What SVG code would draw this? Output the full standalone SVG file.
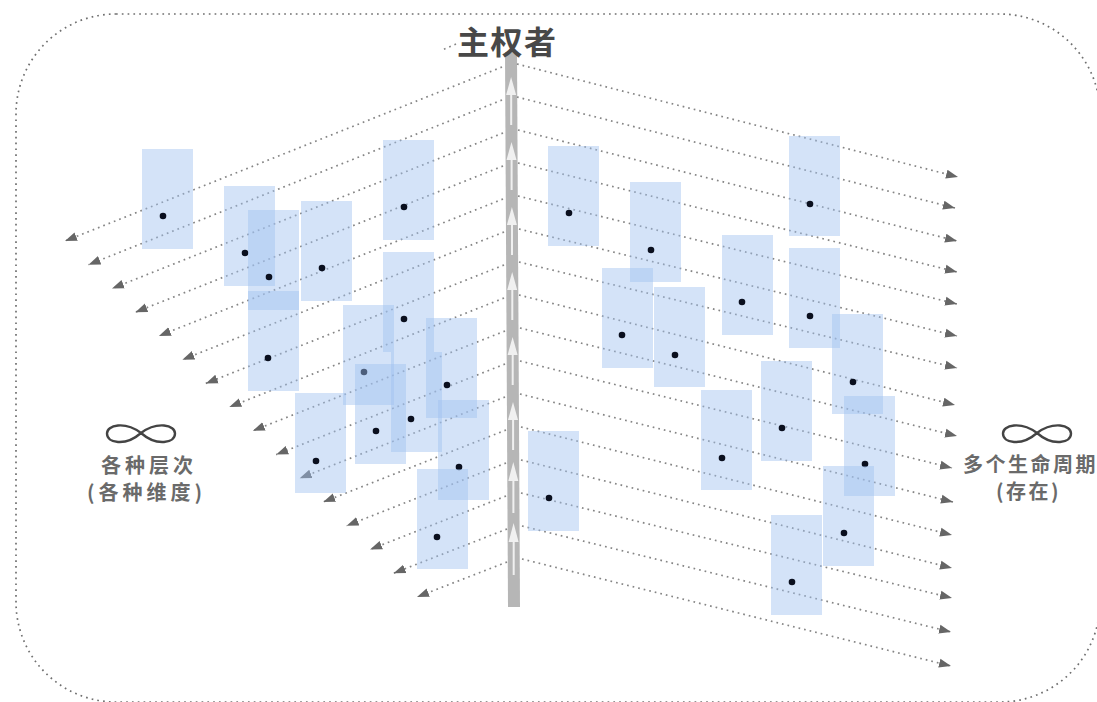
<svg xmlns="http://www.w3.org/2000/svg" width="1097" height="702" viewBox="0 0 1097 702">
<style>
.frame{fill:none;stroke:#707070;stroke-width:1.7;stroke-dasharray:1.7 4.1}
.c{fill:none;stroke:#858585;stroke-width:1.7;stroke-dasharray:1.7 4}
.b{fill:#a0c0f0;fill-opacity:.45}
.d{fill:#0a0f1e}
.w{fill:#f0f0f0}
.inf{fill:none;stroke:#444;stroke-width:2.4}
text{font-family:"Noto Sans CJK SC","Noto Sans",sans-serif}
.t{font-size:32px;font-weight:700;fill:#484848;letter-spacing:1.5px}
.l{font-size:20px;font-weight:700;fill:#6a6a6a;letter-spacing:4px}
.r{font-size:20px;font-weight:700;fill:#6a6a6a;letter-spacing:2.5px}
</style>
<defs>
<marker id="a" markerUnits="userSpaceOnUse" markerWidth="13" markerHeight="11" refX="12" refY="5" orient="auto"><path d="M0 0.500L12 5L0 9.500Z" fill="#666"/></marker>
</defs>
<rect width="1097" height="702" fill="#fff"/>
<rect id="frame" class="frame" x="16" y="14" width="1084" height="688" rx="100" ry="100"/>
<g id="spine">
<path d="M505 52H517L520 607H508Z" fill="#b6b6b6"/>
<path class="w" d="M511.1 77L516.1 95H512.2V125H510.2V95H506.1Z"/>
<path class="w" d="M511.5 142L516.5 160H512.6V190H510.6V160H506.5Z"/>
<path class="w" d="M511.9 207L516.9 225H513V255H511V225H506.9Z"/>
<path class="w" d="M512.2 272L517.2 290H513.3V320H511.3V290H507.2Z"/>
<path class="w" d="M512.6 337L517.6 355H513.7V385H511.7V355H507.6Z"/>
<path class="w" d="M513 402L518 420H514.1V450H512.1V420H508Z"/>
<path class="w" d="M513.3 462L518.3 481H514.4V513H512.4V481H508.3Z"/>
<path class="w" d="M513.6 523L518.6 542H514.7V575H512.7V542H508.6Z"/>
</g>
<g id="connectors">
<path class="c" d="M456 44L442 50"/>
<path class="c" marker-end="url(#a)" d="M502 67L65 241"/>
<path class="c" marker-end="url(#a)" d="M502 100L88.500 264.700"/>
<path class="c" marker-end="url(#a)" d="M503 133L112 288.500"/>
<path class="c" marker-end="url(#a)" d="M503 166L135.400 312.200"/>
<path class="c" marker-end="url(#a)" d="M503 199L158.900 335.900"/>
<path class="c" marker-end="url(#a)" d="M504 232L182.400 359.700"/>
<path class="c" marker-end="url(#a)" d="M504 265L205.800 383.400"/>
<path class="c" marker-end="url(#a)" d="M504 298L229.300 407.100"/>
<path class="c" marker-end="url(#a)" d="M505 331L252.800 430.800"/>
<path class="c" marker-end="url(#a)" d="M505 364L276.200 454.600"/>
<path class="c" marker-end="url(#a)" d="M505 397L299.700 478.300"/>
<path class="c" marker-end="url(#a)" d="M506 430L323.200 502"/>
<path class="c" marker-end="url(#a)" d="M506 463L346.600 525.800"/>
<path class="c" marker-end="url(#a)" d="M506 496L370.100 549.500"/>
<path class="c" marker-end="url(#a)" d="M507 529L393.600 573.200"/>
<path class="c" marker-end="url(#a)" d="M507 562L417 597"/>
<path class="c" marker-end="url(#a)" d="M517 64L958 177"/>
<path class="c" marker-end="url(#a)" d="M517 97L955 208"/>
<path class="c" marker-end="url(#a)" d="M518 130L957 241"/>
<path class="c" marker-end="url(#a)" d="M518 163L957 272"/>
<path class="c" marker-end="url(#a)" d="M518 196L957 304"/>
<path class="c" marker-end="url(#a)" d="M519 229L957 336"/>
<path class="c" marker-end="url(#a)" d="M519 262L957 368"/>
<path class="c" marker-end="url(#a)" d="M519 295L955 405"/>
<path class="c" marker-end="url(#a)" d="M520 328L957 436"/>
<path class="c" marker-end="url(#a)" d="M520 361L952 468"/>
<path class="c" marker-end="url(#a)" d="M520 394L953 502"/>
<path class="c" marker-end="url(#a)" d="M521 427L952 535"/>
<path class="c" marker-end="url(#a)" d="M521 460L952 568"/>
<path class="c" marker-end="url(#a)" d="M521 493L952 598"/>
<path class="c" marker-end="url(#a)" d="M522 526L951 632"/>
<path class="c" marker-end="url(#a)" d="M522 559L951 666"/>
</g>
<g id="n1"><rect class="b" x="142" y="149" width="51" height="100"/><circle class="d" cx="163" cy="216" r="3.300"/></g>
<g id="n2"><rect class="b" x="224" y="186" width="51" height="100"/><circle class="d" cx="245" cy="253" r="3.300"/></g>
<g id="n3"><rect class="b" x="248" y="210" width="51" height="100"/><circle class="d" cx="269" cy="277" r="3.300"/></g>
<g id="n4"><rect class="b" x="301" y="201" width="51" height="100"/><circle class="d" cx="322" cy="268" r="3.300"/></g>
<g id="n5"><rect class="b" x="383" y="140" width="51" height="100"/><circle class="d" cx="404" cy="207" r="3.300"/></g>
<g id="n6"><rect class="b" x="248" y="291" width="51" height="100"/><circle class="d" cx="268" cy="358" r="3.300"/></g>
<g id="n7"><rect class="b" x="383" y="252" width="51" height="100"/><circle class="d" cx="404" cy="319" r="3.300"/></g>
<g id="n8"><rect class="b" x="343" y="305" width="51" height="100"/><circle class="d" cx="364" cy="372" r="3.300"/></g>
<g id="n9"><rect class="b" x="426" y="318" width="51" height="100"/><circle class="d" cx="447" cy="385" r="3.300"/></g>
<g id="n10"><rect class="b" x="355" y="364" width="51" height="100"/><circle class="d" cx="376" cy="431" r="3.300"/></g>
<g id="n11"><rect class="b" x="391" y="352" width="51" height="100"/><circle class="d" cx="411" cy="419" r="3.300"/></g>
<g id="n12"><rect class="b" x="295" y="393" width="51" height="100"/><circle class="d" cx="316" cy="461" r="3.300"/></g>
<g id="n13"><rect class="b" x="438" y="400" width="51" height="100"/><circle class="d" cx="459" cy="467" r="3.300"/></g>
<g id="n14"><rect class="b" x="417" y="469" width="51" height="100"/><circle class="d" cx="437" cy="537" r="3.300"/></g>
<g id="n15"><rect class="b" x="548" y="146" width="51" height="100"/><circle class="d" cx="569" cy="213" r="3.300"/></g>
<g id="n16"><rect class="b" x="630" y="182" width="51" height="100"/><circle class="d" cx="651" cy="250" r="3.300"/></g>
<g id="n17"><rect class="b" x="602" y="268" width="51" height="100"/><circle class="d" cx="622" cy="335" r="3.300"/></g>
<g id="n18"><rect class="b" x="654" y="287" width="51" height="100"/><circle class="d" cx="675" cy="355" r="3.300"/></g>
<g id="n19"><rect class="b" x="722" y="235" width="51" height="100"/><circle class="d" cx="742" cy="302" r="3.300"/></g>
<g id="n20"><rect class="b" x="789" y="136" width="51" height="100"/><circle class="d" cx="810" cy="204" r="3.300"/></g>
<g id="n21"><rect class="b" x="789" y="248" width="51" height="100"/><circle class="d" cx="810" cy="316" r="3.300"/></g>
<g id="n22"><rect class="b" x="832" y="314" width="51" height="100"/><circle class="d" cx="853" cy="382" r="3.300"/></g>
<g id="n23"><rect class="b" x="761" y="361" width="51" height="100"/><circle class="d" cx="782" cy="428" r="3.300"/></g>
<g id="n24"><rect class="b" x="701" y="390" width="51" height="100"/><circle class="d" cx="722" cy="458" r="3.300"/></g>
<g id="n25"><rect class="b" x="844" y="396" width="51" height="100"/><circle class="d" cx="865" cy="464" r="3.300"/></g>
<g id="n26"><rect class="b" x="823" y="466" width="51" height="100"/><circle class="d" cx="844" cy="533" r="3.300"/></g>
<g id="n27"><rect class="b" x="771" y="515" width="51" height="100"/><circle class="d" cx="792" cy="582" r="3.300"/></g>
<g id="n28"><rect class="b" x="528" y="431" width="51" height="100"/><circle class="d" cx="549" cy="498" r="3.300"/></g>
<g id="title"><text class="t" x="457" y="54">主权者</text></g>
<g id="left-label">
<path class="inf" d="M141 433C133 427 124 425 118 425.500C111 426 107 429.500 107 433.500C107 438 111 441.500 118 442C125 442.500 133 440 141 433C149 427 157 425 164 425.500C171 426 175 429.500 175 433.500C175 438 171 441.500 164 442C157 442.500 149 440 141 433Z"/>
<text class="l" x="101" y="473">各种层次</text>
<text class="l" x="87" y="500">(各种维度)</text>
</g>
<g id="right-label">
<path class="inf" d="M1037 433C1029 427 1020 425 1014 425.500C1007 426 1003 429.500 1003 433.500C1003 438 1007 441.500 1014 442C1021 442.500 1029 440 1037 433C1045 427 1053 425 1060 425.500C1067 426 1071 429.500 1071 433.500C1071 438 1067 441.500 1060 442C1053 442.500 1045 440 1037 433Z"/>
<text class="r" x="963" y="472">多个生命周期</text>
<text class="r" x="996" y="499">(存在)</text>
</g>
</svg>
